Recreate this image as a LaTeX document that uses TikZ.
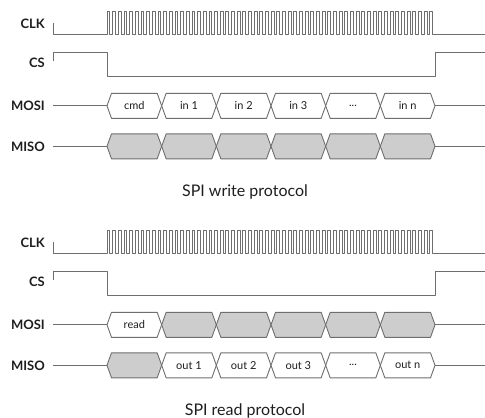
\documentclass[tikz,border=0pt]{standalone}
\usepackage{fontspec}
\setmainfont{Lato}
\definecolor{wavegray}{HTML}{6E6E6E}
\definecolor{busfill}{HTML}{CDCDCD}
\definecolor{inktext}{HTML}{1E1E1E}
% one bus slot: #1 slot index, #2 centre y, #3 draw style, #4 node name, #5 text
\newcommand\busslot[5]{%
  \pgfmathsetmacro\xa{107+#1*54.667}%
  \pgfmathsetmacro\xb{\xa+54.667}%
  \draw[#3] (\xa,#2) -- (\xa+4.5,#2-12.5) -- (\xb-4.5,#2-12.5) -- (\xb,#2)
    -- (\xb-4.5,#2+12.5) -- (\xa+4.5,#2+12.5) -- cycle;
  \node[slotlabel] (#4) at ({(\xa+\xb)/2},#2) {#5};%
}
\begin{document}
\begin{tikzpicture}[x=1pt,y=-1pt,
  wave/.style={draw=wavegray,line width=0.9pt,line join=round},
  openslot/.style={wave,fill=white},
  greyslot/.style={wave,fill=busfill},
  siglabel/.style={anchor=east,inner sep=0pt,text=inktext,
    font=\fontsize{13}{13}\selectfont\bfseries},
  slotlabel/.style={inner sep=0pt,text=inktext,font=\fontsize{11}{11}\selectfont},
  caption/.style={anchor=base,inner sep=0pt,text=inktext,
    font=\fontsize{16}{16}\selectfont}]
\useasboundingbox (0,0) rectangle (485,418);

% ---------- write transaction ----------
\node[siglabel] (wclk) at (45,24) {CLK};
\node[siglabel] (wcs) at (45,63) {CS};
\node[siglabel] (wmosi) at (45,105.8) {MOSI};
\node[siglabel] (wmiso) at (45,146.3) {MISO};

\draw[wave] (53,23.3) |- (107,34.3)
  \foreach \i in {0,...,57}{ -- ++(0,-22.6) -- ++(2.832,0) -- ++(0,22.6) -- ++(2.832,0)}
  -- (485,34.3);
\draw[wave] (53,61) |- (107,52) |- (435,76) |- (485,52);

\draw[wave] (53,105.8) -- (107,105.8);
\draw[wave] (435,105.8) -- (485,105.8);
\busslot{0}{105.8}{openslot}{wcmd}{cmd}
\busslot{1}{105.8}{openslot}{win1}{in 1}
\busslot{2}{105.8}{openslot}{win2}{in 2}
\busslot{3}{105.8}{openslot}{win3}{in 3}
\busslot{4}{105.8}{openslot}{wdots}{...}
\busslot{5}{105.8}{openslot}{winn}{in n}

\draw[wave] (53,146.3) -- (107,146.3);
\draw[wave] (435,146.3) -- (485,146.3);
\foreach \k in {0,...,5}{\busslot{\k}{146.3}{greyslot}{wmiso\k}{}}

\node[caption] (wtitle) at (245,196) {SPI write protocol};

% ---------- read transaction ----------
\begin{scope}[yshift=-219pt]
\node[siglabel] (rclk) at (45,24) {CLK};
\node[siglabel] (rcs) at (45,63) {CS};
\node[siglabel] (rmosi) at (45,105.8) {MOSI};
\node[siglabel] (rmiso) at (45,146.3) {MISO};

\draw[wave] (53,23.3) |- (107,34.3)
  \foreach \i in {0,...,57}{ -- ++(0,-22.6) -- ++(2.832,0) -- ++(0,22.6) -- ++(2.832,0)}
  -- (485,34.3);
\draw[wave] (53,61) |- (107,52) |- (435,76) |- (485,52);

\draw[wave] (53,105.8) -- (107,105.8);
\draw[wave] (435,105.8) -- (485,105.8);
\busslot{0}{105.8}{openslot}{rread}{read}
\foreach \k in {1,...,5}{\busslot{\k}{105.8}{greyslot}{rmosi\k}{}}

\draw[wave] (53,146.3) -- (107,146.3);
\draw[wave] (435,146.3) -- (485,146.3);
\busslot{0}{146.3}{greyslot}{rmiso0}{}
\busslot{1}{146.3}{openslot}{rout1}{out 1}
\busslot{2}{146.3}{openslot}{rout2}{out 2}
\busslot{3}{146.3}{openslot}{rout3}{out 3}
\busslot{4}{146.3}{openslot}{rdots}{...}
\busslot{5}{146.3}{openslot}{routn}{out n}

\node[caption] (rtitle) at (245,196) {SPI read protocol};
\end{scope}
\end{tikzpicture}
\end{document}
